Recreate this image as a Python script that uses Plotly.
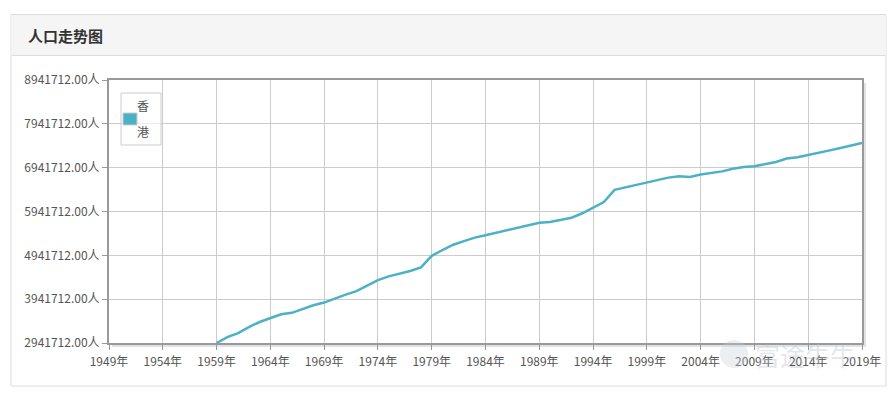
import plotly.graph_objects as go

years = list(range(1959, 2020))
population = [
    2941712, 3075605, 3168100, 3305200, 3420900, 3504600, 3597900, 3629900, 3722800, 3802700,
    3863900, 3959000, 4045300, 4123800, 4241600, 4377800, 4461600, 4518000, 4583700, 4667500,
    4929700, 5063100, 5183400, 5264500, 5345100, 5397900, 5456200, 5524600, 5580500, 5627600,
    5686200, 5704500, 5752000, 5800500, 5901000, 6035400, 6156100, 6435500, 6489300, 6543700,
    6606500, 6665000, 6714300, 6744100, 6730800, 6783500, 6813200, 6857100, 6916300, 6957800,
    6972800, 7024200, 7071600, 7150100, 7178900, 7229500, 7291300, 7336600, 7391700, 7451000,
    7507400,
]
series_name = "香港"
title_text = "人口走势图"
watermark_text = "富途牛牛"
x_tick_years = list(range(1949, 2020, 5))
x_tick_labels = [f"{y}年" for y in x_tick_years]
y_tick_values = [2941712 + k * 1000000 for k in range(7)]
y_tick_labels = [f"{v:.2f}人" for v in y_tick_values]

# page body has an 8px margin, so work in reference pixels minus 8
OFF = 8
W, H = 896 - OFF, 398 - OFF
L, R, T, B = 109 - OFF, 862 - OFF, 80 - OFF, 343 - OFF
FONT = "Noto Sans CJK SC, Noto Sans, sans-serif"
LINE_COLOR = "#4bb2c5"


def px(x):
    return (x - OFF - L) / (R - L)


def py(y):
    return (B - (y - OFF)) / (B - T)


fig = go.Figure()
fig.add_trace(go.Scatter(
    x=years, y=population, mode="lines", name=series_name,
    line=dict(color=LINE_COLOR, width=2.5), showlegend=False,
    hoverinfo="x+y",
))

shapes = []
# card outline
shapes.append(dict(type="rect", xref="paper", yref="paper", layer="below",
                   x0=px(11), x1=px(886), y0=py(14.5), y1=py(386),
                   line=dict(color="#dddddd", width=1), fillcolor="white"))
# header
shapes.append(dict(type="rect", xref="paper", yref="paper", layer="below",
                   x0=px(11.5), x1=px(885.5), y0=py(15), y1=py(55),
                   line=dict(width=0), fillcolor="#f5f5f5"))
shapes.append(dict(type="line", xref="paper", yref="paper", layer="below",
                   x0=px(11.5), x1=px(885.5), y0=py(55.5), y1=py(55.5),
                   line=dict(color="#dddddd", width=1)))
# plot frame shadow
shapes.append(dict(type="rect", xref="paper", yref="paper", layer="below",
                   x0=px(862), x1=px(866), y0=py(83), y1=py(347),
                   line=dict(width=0), fillcolor="#e2e2e2"))
shapes.append(dict(type="rect", xref="paper", yref="paper", layer="below",
                   x0=px(112), x1=px(866), y0=py(343), y1=py(347),
                   line=dict(width=0), fillcolor="#e2e2e2"))
# legend box
shapes.append(dict(type="rect", xref="paper", yref="paper", layer="above",
                   x0=px(121), x1=px(161), y0=py(93), y1=py(145),
                   line=dict(color="#cccccc", width=1), fillcolor="rgba(255,255,255,0.6)"))
shapes.append(dict(type="rect", xref="paper", yref="paper", layer="above",
                   x0=px(123), x1=px(137), y0=py(113), y1=py(125),
                   line=dict(color="#cccccc", width=1), fillcolor=LINE_COLOR))
# watermark logo (light circle)
shapes.append(dict(type="circle", xref="paper", yref="paper", layer="above",
                   x0=px(720), x1=px(748), y0=py(340), y1=py(368),
                   line=dict(width=0), fillcolor="rgba(200,208,218,0.35)"))

annotations = [
    dict(text=f"<b>{title_text}</b>", xref="paper", yref="paper", x=px(26), y=py(36),
         xanchor="left", yanchor="middle", showarrow=False,
         font=dict(family=FONT, size=15, color="#333333")),
    dict(text=series_name[0], xref="paper", yref="paper", x=px(143), y=py(106),
         xanchor="center", yanchor="middle", showarrow=False,
         font=dict(family=FONT, size=12, color="#555555")),
    dict(text=series_name[1], xref="paper", yref="paper", x=px(143), y=py(131),
         xanchor="center", yanchor="middle", showarrow=False,
         font=dict(family=FONT, size=12, color="#555555")),
    dict(text=watermark_text, xref="paper", yref="paper", x=px(805), y=py(355),
         xanchor="center", yanchor="middle", showarrow=False,
         font=dict(family=FONT, size=25, color="rgba(190,200,212,0.45)")),
]

fig.update_layout(
    width=W, height=H,
    margin=dict(l=L, r=W - R, t=T, b=H - B, pad=0),
    paper_bgcolor="white",
    plot_bgcolor="#fffdf6",
    showlegend=False,
    shapes=shapes,
    annotations=annotations,
    font=dict(family=FONT, size=12, color="#555555"),
    xaxis=dict(
        range=[1949, 2019], tickmode="array", tickvals=x_tick_years, ticktext=x_tick_labels,
        showgrid=True, gridcolor="#cccccc", gridwidth=1,
        showline=True, linecolor="#999999", linewidth=2, mirror=True,
        ticks="outside", ticklen=5, tickcolor="#999999", tickwidth=1,
        ticklabelstandoff=2,
        zeroline=False, tickfont=dict(family=FONT, size=12, color="#555555"),
    ),
    yaxis=dict(
        range=[y_tick_values[0], y_tick_values[-1]], tickmode="array",
        tickvals=y_tick_values, ticktext=y_tick_labels,
        showgrid=True, gridcolor="#cccccc", gridwidth=1,
        showline=True, linecolor="#999999", linewidth=2, mirror=True,
        ticks="outside", ticklen=5, tickcolor="#999999", tickwidth=1,
        zeroline=False, tickfont=dict(family=FONT, size=12, color="#555555"),
    ),
)

fig.write_html("out.html")
